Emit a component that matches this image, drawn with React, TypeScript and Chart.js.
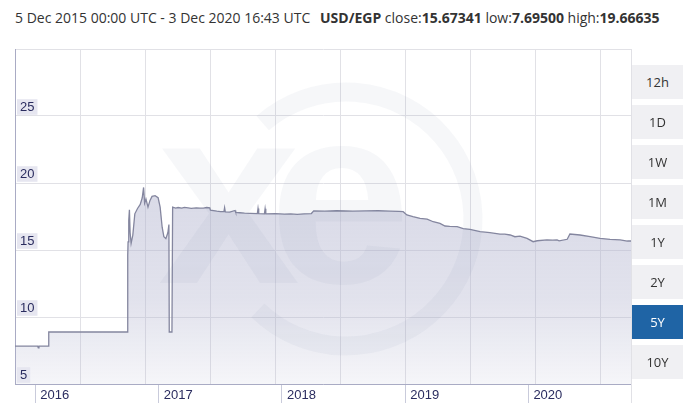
import React, { useEffect, useRef } from 'react';
import { Chart, registerables } from 'chart.js';

Chart.register(...registerables);

// ---- data ----
const rangeStart = '2015-12-05';
const rangeEnd = '2020-12-03';

const dates = [
  '2015-12-05', '2015-12-25', '2016-01-10', '2016-01-28', '2016-02-10', '2016-02-12', '2016-02-14',
  '2016-03-13', '2016-03-14', '2016-04-20', '2016-06-01', '2016-07-15', '2016-08-20', '2016-09-30',
  '2016-11-02', '2016-11-03', '2016-11-04', '2016-11-06', '2016-11-08', '2016-11-10', '2016-11-13',
  '2016-11-18', '2016-11-24', '2016-12-02', '2016-12-10', '2016-12-16', '2016-12-20', '2016-12-23',
  '2016-12-27', '2017-01-02', '2017-01-08', '2017-01-14', '2017-01-23', '2017-02-01', '2017-02-07',
  '2017-02-13', '2017-02-18', '2017-02-24', '2017-03-02', '2017-03-05', '2017-03-06', '2017-03-14',
  '2017-03-16', '2017-03-25', '2017-04-01', '2017-04-12', '2017-04-20', '2017-05-01', '2017-05-10',
  '2017-05-25', '2017-06-05', '2017-06-15', '2017-06-25', '2017-07-04',
  '2017-07-06', '2017-07-25', '2017-08-05', '2017-08-15', '2017-08-17', '2017-08-19', '2017-09-01',
  '2017-09-17', '2017-09-19', '2017-10-01', '2017-10-15', '2017-11-01', '2017-11-22', '2017-11-24',
  '2017-11-26', '2017-12-13', '2017-12-15', '2017-12-17', '2018-01-15', '2018-02-10', '2018-03-01',
  '2018-03-20', '2018-04-10', '2018-05-01', '2018-05-08', '2018-06-10', '2018-07-15', '2018-08-10',
  '2018-09-01', '2018-10-10', '2018-11-15', '2018-12-20', '2019-01-15', '2019-01-28',
  '2019-02-08', '2019-02-26', '2019-03-10', '2019-03-19', '2019-04-09', '2019-04-27', '2019-05-17',
  '2019-06-01', '2019-06-15', '2019-07-07', '2019-07-25', '2019-08-14', '2019-09-13', '2019-10-12',
  '2019-11-11', '2019-11-25', '2019-12-11', '2019-12-25', '2020-01-09', '2020-01-30', '2020-02-17',
  '2020-02-29', '2020-03-29', '2020-04-15', '2020-04-28', '2020-05-04', '2020-05-28', '2020-06-05',
  '2020-07-05', '2020-08-04', '2020-09-02', '2020-10-02', '2020-11-01', '2020-11-22', '2020-12-03',
];

const rates = [
  7.83, 7.83, 7.83, 7.82, 7.83, 7.695, 7.83,
  7.83, 8.88, 8.88, 8.88, 8.88, 8.88, 8.88,
  8.88, 14.6, 15.6, 17.2, 18.0, 16.3, 15.5,
  16.1, 17.7, 18.1, 18.4, 18.9, 19.67, 18.5,
  18.8, 18.2, 18.7, 19.0, 19.05, 18.9, 18.2,
  16.7, 16.0, 15.85, 16.3, 16.9, 8.88, 8.88,
  18.2, 18.13, 18.17, 18.12, 18.18, 18.14, 18.1,
  18.15, 18.13, 18.12, 18.17, 18.15,
  17.98, 17.9, 17.87, 17.86, 18.16, 17.85, 17.82,
  17.95, 17.8, 17.78, 17.75, 17.74, 17.72, 18.1,
  17.72, 17.7, 18.08, 17.7, 17.72, 17.68, 17.69,
  17.66, 17.7, 17.72, 17.92, 17.9, 17.93, 17.91,
  17.9, 17.92, 17.93, 17.9, 17.88, 17.86,
  17.62, 17.49, 17.42, 17.36, 17.31, 17.11, 16.99,
  16.79, 16.76, 16.74, 16.6, 16.54, 16.37, 16.29,
  16.19, 16.18, 16.12, 15.99, 16.04, 15.87, 15.62,
  15.69, 15.75, 15.73, 15.75, 15.68, 15.8, 16.19,
  16.12, 15.99, 15.87, 15.8, 15.75, 15.67, 15.67,
];

const yearLabels = ['2016', '2017', '2018', '2019', '2020'];
const yearTickDates = ['2016-02-03', '2017-02-03', '2018-02-03', '2019-02-03', '2020-02-03'];
const yTicks = [5, 10, 15, 20, 25, 30];
const gridStepDays = 192.6;

const buttons = ['12h', '1D', '1W', '1M', '1Y', '2Y', '5Y', '10Y'];
const activeButton = '5Y';

const dayOf = (d: string) => (Date.parse(d) - Date.parse(rangeStart)) / 86400000;

const watermark = {
  id: 'xeWatermark',
  afterDatasetsDraw(chart: any) {
    const { ctx, chartArea: a } = chart;
    ctx.save();
    ctx.beginPath();
    ctx.rect(a.left, a.top, a.right - a.left, a.bottom - a.top);
    ctx.clip();
    ctx.fillStyle = 'rgba(110,112,160,0.06)';
    ctx.strokeStyle = 'rgba(110,112,160,0.06)';
    ctx.lineWidth = 19;
    ctx.beginPath();
    ctx.arc(a.left + 331, a.top + 170, 127, (-131 * Math.PI) / 180, (134 * Math.PI) / 180);
    ctx.stroke();
    ctx.font = 'bold 255px "Liberation Sans"';
    ctx.textBaseline = 'alphabetic';
    ctx.textAlign = 'left';
    ctx.fillText('x', a.left + 143, a.top + 234);
    ctx.fillText('e', a.left + 254, a.top + 234);
    ctx.restore();
  },
};

export default function App() {
  const ref = useRef<HTMLCanvasElement>(null);

  useEffect(() => {
    document.body.style.margin = '0';
    const tickFont = { family: '"Liberation Sans", Arial, sans-serif', size: 13 };
    const chart = new Chart(ref.current!, {
      type: 'line',
      data: {
        datasets: [
          {
            data: dates.map((d, i) => ({ x: dayOf(d), y: rates[i] })),
            borderColor: '#84869f',
            borderWidth: 1.3,
            pointRadius: 0,
            tension: 0,
            fill: 'start',
            backgroundColor: (c: any) => {
              const { chart: ch } = c;
              const a = ch.chartArea;
              if (!a) return 'rgba(175,177,205,0.45)';
              const g = ch.ctx.createLinearGradient(0, a.top, 0, a.bottom);
              g.addColorStop(0, 'rgba(175,177,205,0.52)');
              g.addColorStop(0.5, 'rgba(175,177,205,0.45)');
              g.addColorStop(0.75, 'rgba(175,177,205,0.37)');
              g.addColorStop(1, 'rgba(175,177,205,0.12)');
              return g;
            },
          },
        ],
      },
      options: {
        animation: false,
        responsive: false,
        maintainAspectRatio: false,
        layout: { padding: { left: 15, top: 49, right: 1, bottom: 0 } },
        plugins: { legend: { display: false }, tooltip: { enabled: false } },
        scales: {
          x: {
            type: 'linear',
            position: 'bottom',
            min: 0,
            max: dayOf(rangeEnd),
            afterBuildTicks: (s: any) => {
              s.ticks = yearTickDates.map((d) => ({ value: dayOf(d) }));
            },
            afterFit: (s: any) => {
              s.height = 19;
            },
            ticks: {
              autoSkip: false,
              maxRotation: 0,
              align: 'start',
              labelOffset: 5,
              padding: -15,
              color: '#2a2c5f',
              font: tickFont,
              callback: (_v: any, i: number) => yearLabels[i],
            },
            grid: { drawOnChartArea: false, drawTicks: true, tickLength: 19, tickColor: '#c9cbdb' },
            border: { color: '#a9abc4' },
          },
          xg: {
            type: 'linear',
            position: 'top',
            min: 0,
            max: dayOf(rangeEnd),
            afterBuildTicks: (s: any) => {
              const t = [];
              for (let v = 0; v < s.max; v += gridStepDays) t.push({ value: v });
              s.ticks = t;
            },
            afterFit: (s: any) => {
              s.height = 0;
            },
            ticks: { display: false },
            grid: { color: '#e1e1e6', drawTicks: false },
            border: { display: false },
          },
          y: {
            type: 'linear',
            min: 5,
            max: 30,
            afterBuildTicks: (s: any) => {
              s.ticks = yTicks.map((v) => ({ value: v }));
            },
            afterFit: (s: any) => {
              s.width = 0;
            },
            ticks: {
              z: 1,
              mirror: true,
              padding: 5,
              labelOffset: -9,
              color: '#2a2c5f',
              font: tickFont,
              showLabelBackdrop: (c: any) => c.tick && c.tick.value !== 30,
              backdropColor: '#e6e6f0',
              backdropPadding: { top: 0, bottom: 0, left: 3, right: 3 },
              callback: (v: any) => (v === 30 ? '' : String(v)),
            },
            grid: { color: '#e1e1e6', drawTicks: false },
            border: { color: '#a9abc4' },
          },
        },
      },
      plugins: [watermark],
    } as any);
    return () => chart.destroy();
  }, []);

  const headerFont = '"Open Sans", "Noto Sans", sans-serif';
  return (
    <div style={{ position: 'fixed', left: 0, top: 0, width: 690, height: 403, background: '#fff', overflow: 'hidden' }}>
      <div style={{ position: 'absolute', left: 15, top: 8, fontFamily: headerFont, fontSize: 14, lineHeight: '20px', color: '#333', whiteSpace: 'nowrap' }}>
        5 Dec 2015 00:00 UTC - 3 Dec 2020 16:43 UTC
      </div>
      <div style={{ position: 'absolute', left: 320, top: 8, fontFamily: headerFont, fontSize: 14, lineHeight: '20px', color: '#333', whiteSpace: 'nowrap' }}>
        <b>USD/EGP</b> close:<b>15.67341</b> low:<b>7.69500</b> high:<b>19.66635</b>
      </div>
      <canvas ref={ref} width={632} height={403} style={{ position: 'absolute', left: 0, top: 0, width: 632, height: 403 }} />
      <div style={{ position: 'absolute', left: 631, top: 49, width: 1, height: 354, background: '#e1e1e6' }} />
      {buttons.map((b, i) => (
        <div
          key={b}
          style={{
            position: 'absolute',
            left: 632,
            top: 65 + i * 40,
            width: 51,
            height: 34,
            lineHeight: '34px',
            textAlign: 'center',
            fontFamily: headerFont,
            fontSize: 13,
            background: b === activeButton ? '#1f64a5' : '#f0f0f3',
            color: b === activeButton ? '#fff' : '#333',
          }}
        >
          {b}
        </div>
      ))}
    </div>
  );
}
